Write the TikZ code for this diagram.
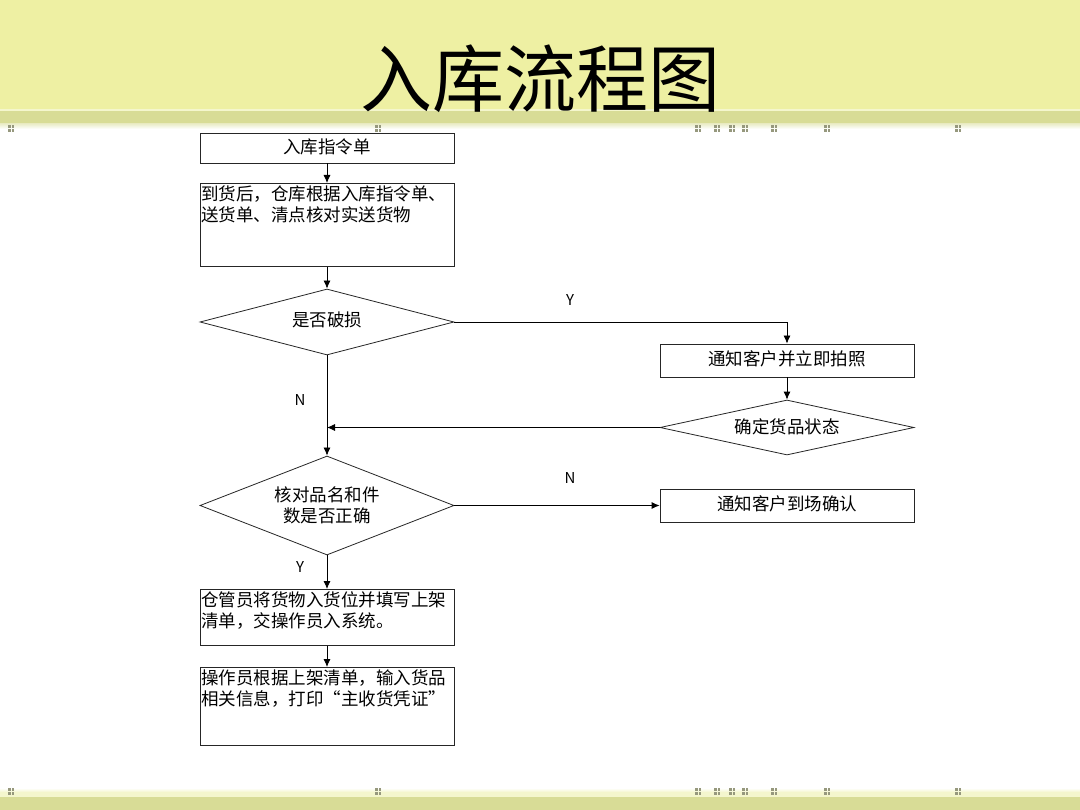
\documentclass[tikz,border=0pt]{standalone}
\usepackage{fontspec}
\newfontfamily\cjk{Noto Sans CJK SC}
\usetikzlibrary{shapes.geometric,arrows.meta}

\definecolor{bandyellow}{RGB}{238,240,163}
\definecolor{banddark}{RGB}{216,220,150}
\definecolor{bandlight}{RGB}{244,246,205}
\definecolor{dotgray}{RGB}{150,152,125}

\tikzset{
  box/.style={draw=black!85, line width=0.8pt, minimum width=254pt,
    inner xsep=1pt, inner ysep=2pt, font=\cjk\fontsize{17.5}{21}\selectfont},
  choice/.style={draw=black!85, line width=0.8pt, diamond, inner sep=0pt,
    minimum width=254pt, align=center, font=\cjk\fontsize{17.5}{21}\selectfont},
  flow/.style={draw=black, line width=0.8pt, -{Latex[length=8pt,width=7pt]}},
  yn/.style={font=\cjk\fontsize{15}{15}\selectfont}
}
\newcommand\toptext[2]{\parbox[c][#1][t]{252pt}{#2}}

\begin{document}
\begin{tikzpicture}[x=1pt, y=-1pt]

        \useasboundingbox (0, 0) rectangle (1080, 810);
        \fill[white] (0, 0) rectangle (1080, 810);

        %%bands
        \fill[bandyellow] (0, 0) rectangle (1080, 109);
        \fill[bandlight] (0, 109) rectangle (1080, 111);
        \fill[banddark] (0, 111) rectangle (1080, 124);
        \shade[top color=banddark!50, bottom color=white] (0, 124) rectangle (1080, 129);
        \shade[top color=white, bottom color=bandlight] (0, 788) rectangle (1080, 792);
        \fill[bandlight] (0, 792) rectangle (1080, 797);
        \fill[banddark] (0, 797) rectangle (1080, 810);

        %%dots
        \foreach \x in {8, 375, 695, 714, 729, 742, 771, 824, 955}
          \foreach \y in {125, 788}
            \foreach \dx in {0, 3.5}
              \foreach \dy in {0, 4}
                \fill[dotgray] (\x+\dx, \y+\dy) rectangle ++(2.5, 3);

        %%title
        \node[anchor=base, yscale=1.02, font=\cjk\fontsize{72}{72}\selectfont] (title) at (540, 107){入库流程图};

        %%left column
        \node[box, minimum height=30pt] (order) at (327, 148){\raisebox{3pt}{入库指令单}};
        \node[box, anchor=north] (check) at (327, 183){\toptext{79pt}{到货后，仓库根据入库指令单、\\送货单、清点核对实送货物}};
        \node[choice, minimum height=66pt, aspect=3.85] (broken) at (327, 322){\raisebox{5pt}{是否破损}};
        \node[choice, minimum height=99pt, aspect=2.57] (count) at (327, 505.5){核对品名和件\\数是否正确};
        \node[box, anchor=north] (shelf) at (327, 589){\toptext{52pt}{仓管员将货物入货位并填写上架\\清单，交操作员入系统。}};
        \node[box, anchor=north] (input) at (327, 667){\toptext{74pt}{操作员根据上架清单，输入货品\\相关信息，打印\makebox[1em][r]{“}主收货凭证\makebox[1em][l]{”}}};

        %%right column
        \node[box, minimum height=33pt] (photo) at (787, 360.5){\raisebox{5pt}{通知客户并立即拍照}};
        \node[choice, minimum height=55pt, aspect=4.6] (state) at (787, 427.5){\raisebox{2pt}{确定货品状态}};
        \node[box, minimum height=33pt] (notify) at (787, 505.5){\raisebox{5pt}{通知客户到场确认}};

        \coordinate (join) at (327, 427.5);

        %%arrows
        \draw[flow] (order) -- (check);
        \draw[flow] (check) -- (broken);
        \draw[flow] (broken.east) -| (photo.north);
            \node[yn] (yes1) at (570, 300){Y};
        \draw[flow] (broken.south) -- (count.north);
            \node[yn] (no1) at (300, 400){N};
        \draw[flow] (photo) -- (state);
        \draw[flow] (state.west) -- (join);
        \draw[flow] (count.east) -- (notify.west);
            \node[yn] (no2) at (570, 478){N};
        \draw[flow] (count.south) -- (shelf.north);
            \node[yn] (yes2) at (300, 567){Y};
        \draw[flow] (shelf) -- (input);
    \end{tikzpicture}
\end{document}
